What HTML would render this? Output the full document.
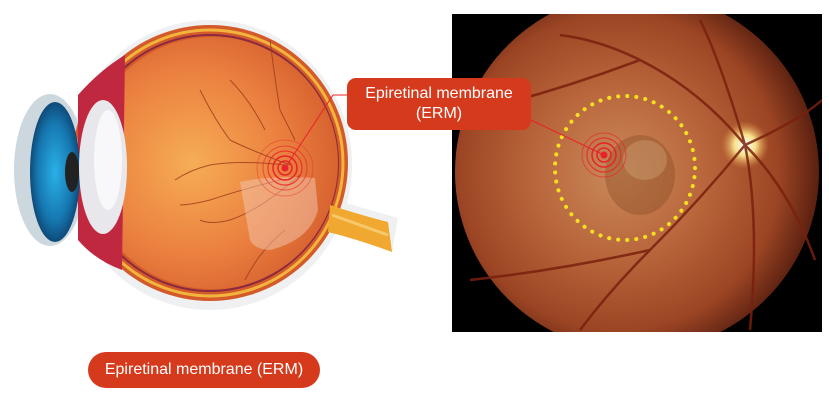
<!DOCTYPE html>
<html><head><meta charset="utf-8"><style>
html,body{margin:0;padding:0;background:#fff;}
body{width:829px;height:400px;position:relative;overflow:hidden;font-family:"Liberation Sans",sans-serif;}
.lbl{position:absolute;background:#d63a1c;color:#fff;text-align:center;}
</style></head><body>
<svg width="829" height="400" style="position:absolute;left:0;top:0">
<defs>
<radialGradient id="globe" cx="0.42" cy="0.5" r="0.6">
<stop offset="0" stop-color="#f6ad55"/><stop offset="0.6" stop-color="#eb8140"/><stop offset="1" stop-color="#d6602e"/>
</radialGradient>
<radialGradient id="cornea" cx="0.5" cy="0.5" r="0.5">
<stop offset="0" stop-color="#2ab0e8"/><stop offset="0.7" stop-color="#1677b0"/><stop offset="1" stop-color="#0e4a78"/>
</radialGradient>
<radialGradient id="fundus" cx="0.45" cy="0.5" r="0.55">
<stop offset="0" stop-color="#c98a5a"/><stop offset="0.45" stop-color="#b8643a"/><stop offset="0.8" stop-color="#9c4524"/><stop offset="1" stop-color="#5a2010"/>
</radialGradient>
<radialGradient id="disc" cx="0.5" cy="0.5" r="0.5">
<stop offset="0" stop-color="#ffffff"/><stop offset="0.45" stop-color="#f8e08a"/><stop offset="1" stop-color="#d98a40" stop-opacity="0"/>
</radialGradient>
<clipPath id="fc"><rect x="452" y="14" width="370" height="318"/></clipPath>
</defs>
<!-- eye -->
<ellipse cx="210" cy="165" rx="142" ry="145" fill="#eef0f2"/>
<ellipse cx="50" cy="170" rx="36" ry="76" fill="#cdd7de"/>
<path d="M398 218 L392 252 L340 232 L335 200 Z" fill="#eef0f2"/>
<circle cx="210" cy="163" r="138" fill="#d45a2a"/>
<circle cx="210" cy="163" r="133" fill="none" stroke="#f1b43c" stroke-width="3"/>
<circle cx="210" cy="163" r="128" fill="none" stroke="#8a2a40" stroke-width="2"/>
<circle cx="212" cy="163" r="126" fill="url(#globe)"/>
<path d="M330 205 Q360 215 388 222 L392 252 Q360 240 328 232 Z" fill="#f0a830"/>
<path d="M332 215 Q360 225 388 235" stroke="#f7c86a" stroke-width="3" fill="none"/>
<path d="M78 95 Q100 70 125 55 L122 270 Q95 260 78 240 Z" fill="#c02840"/>
<ellipse cx="55" cy="172" rx="25" ry="70" fill="url(#cornea)"/>
<ellipse cx="72" cy="172" rx="7" ry="20" fill="#222"/>
<ellipse cx="103" cy="167" rx="24" ry="67" fill="#e8e8ec"/>
<ellipse cx="108" cy="160" rx="14" ry="50" fill="#f8f8fa"/>
<g stroke="#9a3a1a" stroke-width="1" fill="none" opacity="0.8">
<path d="M290 165 Q250 150 230 140 Q215 120 200 90"/>
<path d="M285 165 Q240 160 210 165 Q190 170 175 180"/>
<path d="M280 180 Q240 190 210 200 Q190 205 180 205"/>
<path d="M300 175 Q260 210 230 220 Q210 225 200 220"/>
<path d="M270 40 Q275 80 280 110 Q290 130 295 140"/>
<path d="M230 80 Q250 100 265 130"/>
<path d="M285 230 Q260 250 245 280"/>
</g>
<path d="M240 182 Q270 175 315 178 L318 210 Q310 240 270 250 Q255 250 250 240 Z" fill="#f3c8b0" opacity="0.5"/>
<g fill="none" stroke="#e8222a">
<circle cx="285" cy="168" r="3" fill="#e8222a"/>
<circle cx="285" cy="168" r="7" stroke-width="1.5"/>
<circle cx="285" cy="168" r="12" stroke-width="1.5"/>
<circle cx="285" cy="168" r="17" stroke-width="1.2" opacity="0.8"/>
<circle cx="285" cy="168" r="22" stroke-width="1" opacity="0.6"/>
<circle cx="285" cy="168" r="28" stroke-width="1" opacity="0.4"/>
</g>
<line x1="285" y1="168" x2="333" y2="95" stroke="#e8222a" stroke-width="1"/>
<line x1="333" y1="95" x2="348" y2="95" stroke="#e8222a" stroke-width="1"/>
<!-- fundus -->
<rect x="452" y="14" width="370" height="318" fill="#000"/>
<g clip-path="url(#fc)">
<ellipse cx="637" cy="172" rx="182" ry="180" fill="url(#fundus)"/>
<ellipse cx="640" cy="175" rx="35" ry="40" fill="#8a4a24" opacity="0.4"/>
<ellipse cx="645" cy="160" rx="22" ry="20" fill="#d8b080" opacity="0.35"/>
<circle cx="745" cy="145" r="24" fill="url(#disc)"/>
<g stroke="#7a200e" stroke-width="2.5" fill="none" opacity="0.85">
<path d="M745 145 Q700 90 640 60 Q600 40 560 35"/>
<path d="M745 145 Q720 60 700 20"/>
<path d="M745 145 Q700 200 650 250 Q610 290 580 330"/>
<path d="M745 145 Q760 220 750 330"/>
<path d="M745 145 Q800 120 822 100"/>
<path d="M745 145 Q790 190 815 260"/>
<path d="M640 60 Q560 90 480 110"/>
<path d="M650 250 Q560 270 470 280"/>
</g>
<ellipse cx="625" cy="168" rx="70" ry="72" fill="none" stroke="#f6e020" stroke-width="4" stroke-dasharray="0.1 9" stroke-linecap="round"/>
<g fill="none" stroke="#e8222a">
<circle cx="604" cy="155" r="3" fill="#e8222a"/>
<circle cx="604" cy="155" r="7" stroke-width="1.5"/>
<circle cx="604" cy="155" r="12" stroke-width="1.5"/>
<circle cx="604" cy="155" r="17" stroke-width="1.2" opacity="0.8"/>
<circle cx="604" cy="155" r="22" stroke-width="1" opacity="0.6"/>
</g>
<line x1="604" y1="155" x2="531" y2="120" stroke="#e8222a" stroke-width="1"/>
</g>
</svg>
<div class="lbl" style="left:347px;top:78px;width:184px;height:52px;border-radius:9px;font-size:16px;line-height:20px;padding-top:6px;box-sizing:border-box;">Epiretinal membrane<br>(ERM)</div>
<div class="lbl" style="left:88px;top:352px;width:232px;height:36px;border-radius:18px;font-size:16px;line-height:36px;">Epiretinal membrane (ERM)</div>
</body></html>
